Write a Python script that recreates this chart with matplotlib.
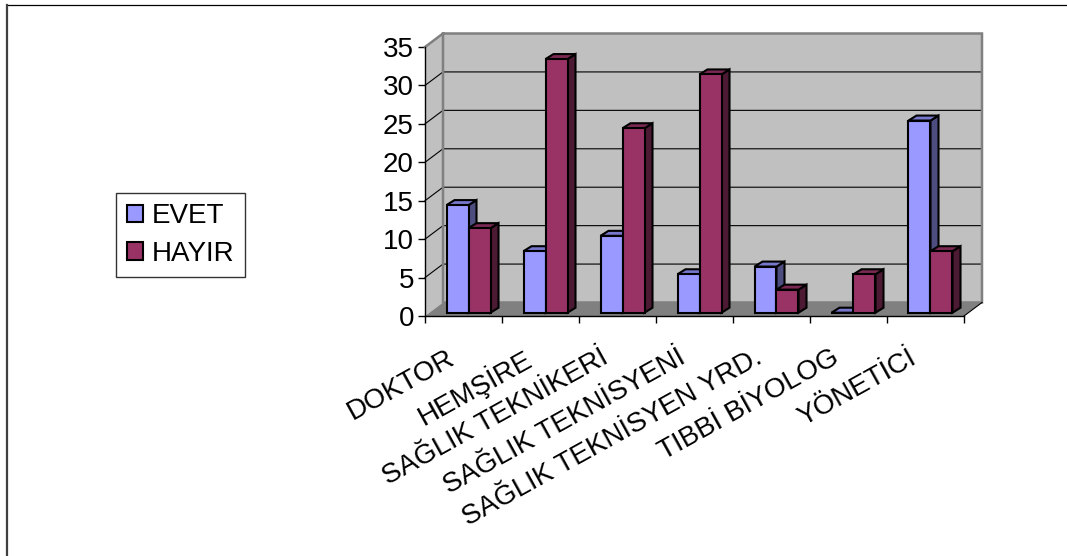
import matplotlib
matplotlib.use("Agg")
import matplotlib.pyplot as plt
from matplotlib.patches import Patch, Polygon, Rectangle
from matplotlib.lines import Line2D

# ---- data -------------------------------------------------------------
categories = ["DOKTOR", "HEMŞİRE", "SAĞLIK TEKNİKERİ", "SAĞLIK TEKNİSYENİ",
              "SAĞLIK TEKNİSYEN YRD.", "TIBBİ BİYOLOG", "YÖNETİCİ"]
evet = [14, 8, 10, 5, 6, 0, 25]
hayir = [11, 33, 24, 31, 3, 5, 8]
series_names = ["EVET", "HAYIR"]
y_ticks = [0, 5, 10, 15, 20, 25, 30, 35]

# ---- style ------------------------------------------------------------
plt.rcParams["font.family"] = ["Liberation Sans", "DejaVu Sans"]
FS = 20
front_col = ["#9999FF", "#993366"]
top_col = ["#7777CC", "#7A2952"]
side_col = ["#4D4D80", "#4D1A33"]
wall_col = "#C0C0C0"
floor_col = "#808080"

W, H = 1067, 556
fig = plt.figure(figsize=(W / 100, H / 100), dpi=100)
fig.patch.set_facecolor("white")

n = len(categories)
ymax = y_ticks[-1]
ax = fig.add_axes([425 / W, (H - 316) / H, 539 / W, 269 / H])
ax.set_xlim(0, n)
ax.set_ylim(0, ymax)
ax.patch.set_visible(False)

# pixel -> data conversion for the pseudo-3D depth offsets
px_x = 539 / n
px_y = 269 / ymax
DX, DY = 18 / px_x, 13.5 / px_y          # wall depth
OX, OY = 5 / px_x, 3.3 / px_y            # bar front plane offset
BDX, BDY = 8 / px_x, 5 / px_y            # bar depth
BW = 22 / px_x                           # bar width

kw = dict(clip_on=False)

# walls and floor
ax.add_patch(Polygon([(0, 0), (DX, DY), (DX, ymax + DY), (0, ymax)],
                     fc=wall_col, ec="none", zorder=1, **kw))
ax.add_patch(Rectangle((DX, DY), n, ymax, fc=wall_col, ec="none", zorder=1, **kw))
for y in y_ticks[1:-1]:
    ax.plot([0, DX, n + DX], [y, y + DY, y + DY], color="black", lw=0.8,
            zorder=2, **kw)
ax.add_patch(Polygon([(0, 0), (n, 0), (n + DX, DY), (DX, DY)],
                     fc=floor_col, ec="none", zorder=2, **kw))
ax.plot([0, DX, n + DX, n + DX, DX, DX], [ymax, ymax + DY, ymax + DY, DY, DY, ymax + DY],
        color="#808080", lw=1.8, zorder=2, solid_joinstyle="miter", **kw)
ax.plot([n, n + DX], [0, DY], color="black", lw=0.8, zorder=3, **kw)

# bars
for i in range(n):
    center = i + 0.5 + OX
    for j, vals in enumerate([evet, hayir]):
        v = vals[i]
        x0 = center - BW + j * BW
        y0, y1 = OY, OY + v
        z = 4 + i * 2 + j
        side = [(x0 + BW, y0), (x0 + BW + BDX, y0 + BDY),
                (x0 + BW + BDX, y1 + BDY), (x0 + BW, y1)]
        top = [(x0, y1), (x0 + BW, y1), (x0 + BW + BDX, y1 + BDY), (x0 + BDX, y1 + BDY)]
        front = [(x0, y0), (x0 + BW, y0), (x0 + BW, y1), (x0, y1)]
        for pts, col in ((side, side_col[j]), (top, top_col[j]), (front, front_col[j])):
            ax.add_patch(Polygon(pts, fc=col, ec="black", lw=1.5,
                                 joinstyle="miter", zorder=z, **kw))

# axes lines and ticks
for s in ("top", "right"):
    ax.spines[s].set_visible(False)
for s in ("left", "bottom"):
    ax.spines[s].set_color("black")
    ax.spines[s].set_linewidth(1.0)
    ax.spines[s].set_zorder(3)
ax.set_yticks(y_ticks)
ax.set_yticklabels([str(t) for t in y_ticks], fontsize=FS)
ax.set_xticks(range(n + 1))
ax.set_xticklabels([""] * (n + 1))
ax.tick_params(axis="both", direction="out", length=5, width=1.0, color="black")
ax.tick_params(axis="y", pad=3)

# rotated category labels
for i, cat in enumerate(categories):
    ax.annotate(cat, xy=(i + 0.5, 0), xycoords="data", xytext=(-8, -29),
                textcoords="offset points", rotation=29, ha="right", va="center",
                rotation_mode="anchor", fontsize=FS, annotation_clip=False)

# legend
handles = [Patch(fc=front_col[k], ec="black", lw=1.5) for k in range(2)]
leg = fig.legend(handles, series_names, loc="center left",
                 bbox_to_anchor=(116 / W, 1 - 235 / H), fontsize=FS,
                 frameon=True, fancybox=False, edgecolor="black",
                 handlelength=0.6, handleheight=0.6, handletextpad=0.3,
                 labelspacing=0.4, borderpad=0.38, borderaxespad=0)
leg.get_frame().set_linewidth(1.0)

# chart border
fig.add_artist(Line2D([6.8 / W, 1], [1 - 4.5 / H] * 2, color="black", lw=0.9,
                      transform=fig.transFigure))
fig.add_artist(Line2D([6.8 / W] * 2, [0, 1 - 4.5 / H], color="#404040", lw=1.6,
                      transform=fig.transFigure))

fig.savefig("out.png", dpi=100)
